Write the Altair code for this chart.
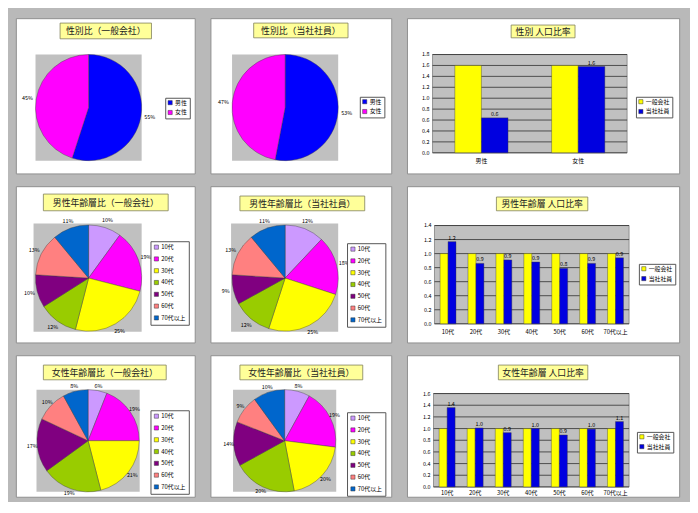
import altair as alt
import pandas as pd

FONT = "Noto Sans CJK JP"

# ---------------- data ----------------
sex_cats = ["男性", "女性"]
sex_colors = ["#0000FF", "#FF00FF"]
sex_share_general = [55, 45]
sex_share_company = [53, 47]

age_cats = ["10代", "20代", "30代", "40代", "50代", "60代", "70代以上"]
age_colors = ["#CC99FF", "#FF00FF", "#FFFF00", "#99CC00", "#800080", "#FF8080", "#0066CC"]
male_share_general = [10, 19, 25, 12, 10, 13, 11]
male_share_company = [12, 18, 25, 12, 9, 13, 11]
female_share_general = [6, 19, 21, 19, 17, 10, 8]
female_share_company = [8, 19, 20, 20, 14, 9, 10]

series_names = ["一般会社", "当社社員"]
series_colors = ["#FFFF00", "#0000E0"]
sex_ratio_general = [1.6, 1.6]
sex_ratio_company = [0.64, 1.58]
male_ratio_general = [1.0, 1.0, 1.0, 1.0, 1.0, 1.0, 1.0]
male_ratio_company = [1.17, 0.86, 0.91, 0.88, 0.79, 0.86, 0.94]
female_ratio_general = [1.0, 1.0, 1.0, 1.0, 1.0, 1.0, 1.0]
female_ratio_company = [1.36, 1.01, 0.93, 1.00, 0.89, 0.99, 1.12]

sex_ticks = [0.0, 0.2, 0.4, 0.6, 0.8, 1.0, 1.2, 1.4, 1.6, 1.8]
male_ticks = [0.0, 0.2, 0.4, 0.6, 0.8, 1.0, 1.2, 1.4]
female_ticks = [0.0, 0.2, 0.4, 0.6, 0.8, 1.0, 1.2, 1.4, 1.6]

titles = [
    "性別比（一般会社）", "性別比（当社社員）", "性別 人口比率",
    "男性年齢層比（一般会社）", "男性年齢層比（当社社員）", "男性年齢層 人口比率",
    "女性年齢層比（一般会社）", "女性年齢層比（当社社員）", "女性年齢層 人口比率",
]


# ---------------- helpers ----------------
def box_title(text, x0, x1, y0, y1):
    d = pd.DataFrame({"t": [text]})
    box = alt.Chart(d).mark_rect(fill="#FFFF99", stroke="#80805A", strokeWidth=0.8).encode(
        x=alt.value(x0), x2=alt.value(x1), y=alt.value(y0), y2=alt.value(y1))
    txt = alt.Chart(d).mark_text(font=FONT, fontSize=9, color="#222222").encode(
        x=alt.value((x0 + x1) / 2), y=alt.value((y0 + y1) / 2 + 0.5), text="t:N")
    return [box, txt]


def legend(lx, ly, rp, pad):
    return alt.Legend(orient="none", legendX=lx, legendY=ly, symbolType="square",
                      symbolSize=18, symbolStrokeColor="#333333", symbolStrokeWidth=0.5,
                      labelFont=FONT, labelFontSize=6, labelColor="#000000", labelOffset=2,
                      rowPadding=rp, padding=pad, strokeColor="#555555", fillColor="#FFFFFF")


def pie_panel(title, tb, cats, colors, shares, W, H, sq, cx, cy, r, lr, lx, ly, rp, pad):
    d = pd.DataFrame({"cat": cats, "v": shares, "idx": list(range(len(cats))),
                      "lab": [f"{s}%" for s in shares]})
    bgd = pd.DataFrame({"k": [0]})
    bg = alt.Chart(bgd).mark_rect(fill="#C0C0C0").encode(
        x=alt.value(sq[0]), x2=alt.value(sq[1]), y=alt.value(sq[2]), y2=alt.value(sq[3]))
    theta = alt.Theta("v:Q", stack=True)
    arc = alt.Chart(d).mark_arc(radius=r, stroke="#3A3A3A", strokeWidth=0.4).encode(
        theta=theta, order=alt.Order("idx:Q"),
        color=alt.Color("cat:N", sort=cats, scale=alt.Scale(domain=cats, range=colors),
                        title=None, legend=legend(lx, ly, rp, pad)),
        x=alt.value(cx), y=alt.value(cy))
    lab = alt.Chart(d).mark_text(radius=lr, font=FONT, fontSize=5.5, color="#000000").encode(
        theta=theta, order=alt.Order("idx:Q"), text="lab:N", x=alt.value(cx), y=alt.value(cy))
    return alt.layer(bg, arc, lab, *box_title(title, *tb)).properties(width=W, height=H)


def bar_panel(title, tb, cats, gen, comp, ticks, W, H, plot, xly, lx, ly, pi, po):
    x0, x1, y0, y1 = plot
    top = ticks[-1]
    rows = []
    for c, g, k in zip(cats, gen, comp):
        rows.append({"cat": c, "series": series_names[0], "v": g, "lab": f"{g:.1f}"})
        rows.append({"cat": c, "series": series_names[1], "v": k, "lab": f"{k:.1f}"})
    d = pd.DataFrame(rows)
    dc = d[d["series"] == series_names[1]]
    td = pd.DataFrame({"t": ticks, "lab": [f"{t:.1f}" for t in ticks]})
    cd = pd.DataFrame({"cat": cats})
    ysc = alt.Scale(domain=[0, top], range=[y1, y0])
    xsc = alt.Scale(domain=cats, range=[x0, x1], paddingInner=pi, paddingOuter=po)
    osc = alt.Scale(domain=series_names, paddingInner=0, paddingOuter=0)
    X = alt.X("cat:N", scale=xsc, axis=None, sort=cats)
    XO = alt.XOffset("series:N", scale=osc, sort=series_names)
    bgd = pd.DataFrame({"k": [0]})
    bg = alt.Chart(bgd).mark_rect(fill="#C0C0C0", stroke="#808080", strokeWidth=0.8).encode(
        x=alt.value(x0), x2=alt.value(x1), y=alt.value(y0), y2=alt.value(y1))
    grid = alt.Chart(td).mark_rule(color="#2E2E2E", strokeWidth=0.8).encode(
        y=alt.Y("t:Q", scale=ysc, axis=None), x=alt.value(x0), x2=alt.value(x1))
    tl = alt.Chart(td).mark_text(align="right", font=FONT, fontSize=5.5, color="#000000").encode(
        y=alt.Y("t:Q", scale=ysc, axis=None), x=alt.value(x0 - 3), text="lab:N")
    bars = alt.Chart(d).mark_bar(stroke="#3A3A3A", strokeWidth=0.4).encode(
        x=X, xOffset=XO, y=alt.Y("v:Q", scale=ysc, axis=None),
        color=alt.Color("series:N", sort=series_names,
                        scale=alt.Scale(domain=series_names, range=series_colors),
                        title=None, legend=legend(lx, ly, 2, 2)))
    vl = alt.Chart(dc).mark_text(dy=-4, font=FONT, fontSize=5.5, color="#000000").encode(
        x=X, xOffset=XO, y=alt.Y("v:Q", scale=ysc, axis=None), text="lab:N")
    xl = alt.Chart(cd).mark_text(font=FONT, fontSize=6, color="#000000").encode(
        x=X, y=alt.value(xly), text="cat:N")
    return alt.layer(bg, grid, tl, bars, vl, xl, *box_title(title, *tb)).properties(width=W, height=H)


# ---------------- panels ----------------
p11 = pie_panel(titles[0], (45, 138, 5, 21), sex_cats, sex_colors, sex_share_general,
                182, 158, (20, 128, 37, 145), 74, 91, 54, 63, 152, 81, 2, 2)
p12 = pie_panel(titles[1], (44, 140, 5, 20), sex_cats, sex_colors, sex_share_company,
                184, 158, (22, 130, 37, 145), 76, 91, 54, 63, 152, 80, 2, 2)
p13 = bar_panel(titles[2], (106, 171, 7, 20), sex_cats, sex_ratio_general, sex_ratio_company,
                sex_ticks, 277, 158, (26, 224, 37, 137), 145, 233, 80, 0.45, 0.23)

p21 = pie_panel(titles[3], (28, 155, 8, 25), age_cats, age_colors, male_share_general,
                182, 159, (18, 128, 38, 148), 74, 93.5, 54, 62, 137, 56, 4, 3)
p22 = pie_panel(titles[4], (30, 157, 10, 25), age_cats, age_colors, male_share_company,
                184, 159, (21, 130, 38, 148), 76, 93.5, 54, 62, 139, 58, 4, 3)
p23 = bar_panel(titles[5], (91, 184, 11, 25), age_cats, male_ratio_general, male_ratio_company,
                male_ticks, 277, 159, (28, 226, 40, 140), 148, 236, 79, 0.43, 0.2)

p31 = pie_panel(titles[6], (28, 153, 10, 25), age_cats, age_colors, female_share_general,
                182, 144, (21, 126, 35, 139), 73.5, 87, 52, 57, 137, 56, 4, 3)
p32 = pie_panel(titles[7], (30, 155, 10, 25), age_cats, age_colors, female_share_company,
                184, 144, (23, 128, 35, 139), 75.5, 87, 52, 57, 139, 58, 4, 3)
p33 = bar_panel(titles[8], (93, 184, 10, 25), age_cats, female_ratio_general, female_ratio_company,
                female_ticks, 277, 144, (27, 226, 39, 134), 140, 234, 78, 0.43, 0.2)


def row(*charts):
    return alt.hconcat(*charts, spacing=14).resolve_scale(
        color="independent", theta="independent", xOffset="independent")


chart = alt.vconcat(row(p11, p12, p13), row(p21, p22, p23), row(p31, p32, p33), spacing=11).resolve_scale(
    color="independent", theta="independent", xOffset="independent"
).properties(
    background="#B9B9B9",
    padding={"left": 7, "top": 5, "right": 10, "bottom": 0},
).configure_view(fill="#FFFFFF", stroke="#8F8F8F", strokeWidth=1)

chart.save("out.html", embed_options={"renderer": "svg", "actions": False})
